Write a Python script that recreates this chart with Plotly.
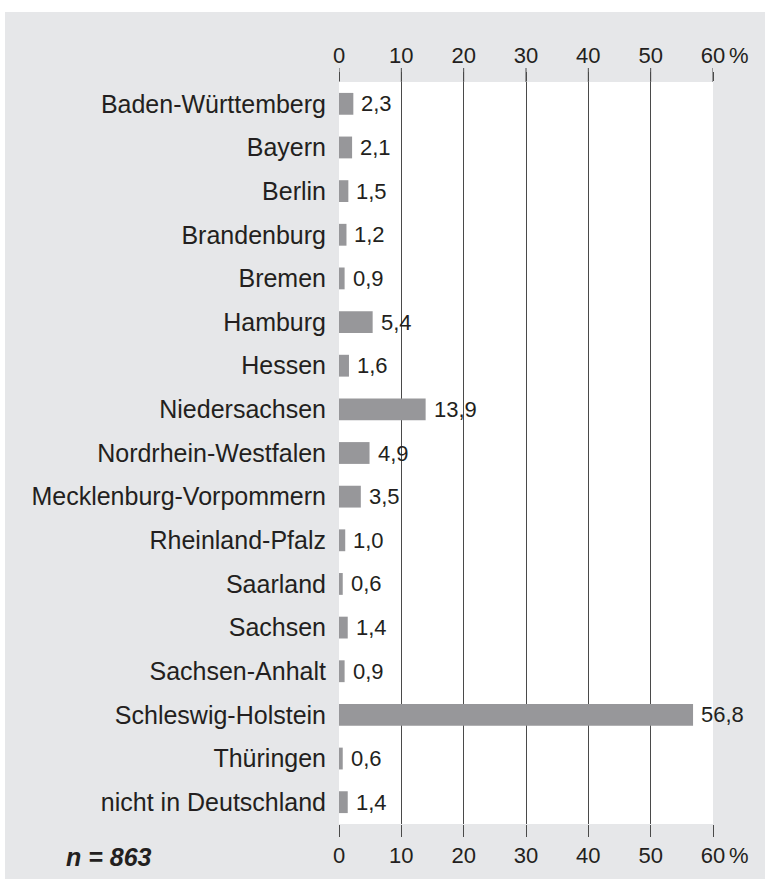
import plotly.graph_objects as go

categories = ["Baden-Württemberg", "Bayern", "Berlin", "Brandenburg", "Bremen", "Hamburg",
              "Hessen", "Niedersachsen", "Nordrhein-Westfalen", "Mecklenburg-Vorpommern",
              "Rheinland-Pfalz", "Saarland", "Sachsen", "Sachsen-Anhalt", "Schleswig-Holstein",
              "Thüringen", "nicht in Deutschland"]
values = [2.3, 2.1, 1.5, 1.2, 0.9, 5.4, 1.6, 13.9, 4.9, 3.5, 1.0, 0.6, 1.4, 0.9, 56.8, 0.6, 1.4]
value_labels = ["2,3", "2,1", "1,5", "1,2", "0,9", "5,4", "1,6", "13,9", "4,9", "3,5",
                "1,0", "0,6", "1,4", "0,9", "56,8", "0,6", "1,4"]
tick_vals = [0, 10, 20, 30, 40, 50, 60]
tick_text = ["0", "10", "20", "30", "40", "50", "60"]
sample_note = "n = 863"

W, H = 765, 881
L, R, T, B = 339, 52, 82, 57
pw, ph = W - L - R, H - T - B

TXT = "#231f20"
GRID = "#4a4a4a"
FONT = "Liberation Sans, Arial, sans-serif"

fig = go.Figure()
fig.add_trace(go.Bar(
    y=categories, x=values, orientation="h", width=0.5,
    marker=dict(color="#97979a", line=dict(width=0)),
    hoverinfo="skip", showlegend=False, xaxis="x", yaxis="y",
))
# invisible trace to activate the bottom axis
fig.add_trace(go.Scatter(
    y=categories, x=values, mode="markers", marker=dict(opacity=0, size=1),
    hoverinfo="skip", showlegend=False, xaxis="x2", yaxis="y",
))

axis_common = dict(
    range=[0, 60], tickvals=tick_vals, ticktext=tick_text,
    ticks="outside", tickcolor=GRID, tickwidth=1,
    tickfont=dict(family=FONT, size=22, color=TXT),
    showline=False, zeroline=False, fixedrange=True,
)
fig.update_layout(
    width=W, height=H,
    margin=dict(l=L, r=R, t=T, b=B, pad=0),
    paper_bgcolor="white", plot_bgcolor="white",
    font=dict(family=FONT, color=TXT),
    xaxis=dict(side="top", ticklen=9, showgrid=True, gridcolor=GRID, gridwidth=1,
               anchor="y", **axis_common),
    xaxis2=dict(side="bottom", overlaying="x", matches="x", ticklen=12, showgrid=False,
                anchor="y", **axis_common),
    yaxis=dict(range=[len(categories) - 0.5, -0.5], autorange=False,
               ticks="", showgrid=False, zeroline=False,
               tickfont=dict(family=FONT, size=25, color=TXT),
               ticklabelstandoff=12, fixedrange=True),
    bargap=0.5,
)

shapes = [
    dict(type="rect", xref="paper", yref="paper", layer="below",
         x0=(5 - L) / pw, x1=(W - L) / pw + 0.01, y0=-(879 - (H - B)) / ph, y1=1 + (T - 12) / ph,
         fillcolor="#e6e7e9", line=dict(width=0)),
    dict(type="rect", xref="paper", yref="paper", layer="below",
         x0=0, x1=1, y0=0, y1=1, fillcolor="white", line=dict(width=0)),
]
# extend the top tick marks a little further into the grey band
for tv in tick_vals:
    shapes.append(dict(type="line", xref="x", yref="paper", x0=tv, x1=tv,
                       y0=1, y1=1 + 14 / ph, line=dict(color=GRID, width=1)))
fig.update_layout(shapes=shapes)

annotations = []
for c, v, t in zip(categories, values, value_labels):
    annotations.append(dict(x=v, y=c, xref="x", yref="y", text=t, showarrow=False,
                            xanchor="left", yanchor="middle", xshift=6,
                            font=dict(family=FONT, size=22, color=TXT)))
for yy in (1 + 27 / ph, -31 / ph):
    annotations.append(dict(x=60, y=yy, xref="x", yref="paper", text="%", showarrow=False,
                            xanchor="left", yanchor="middle", xshift=14,
                            font=dict(family=FONT, size=22, color=TXT)))
annotations.append(dict(x=(109 - L) / pw, y=-33 / ph, xref="paper", yref="paper",
                        text="<b><i>" + sample_note + "</i></b>", showarrow=False,
                        xanchor="center", yanchor="middle",
                        font=dict(family=FONT, size=25, color=TXT)))
fig.update_layout(annotations=annotations)

fig.write_html("out.html", config={"displayModeBar": False},
               post_script="document.body.style.margin='0';document.body.style.overflow='hidden';")
